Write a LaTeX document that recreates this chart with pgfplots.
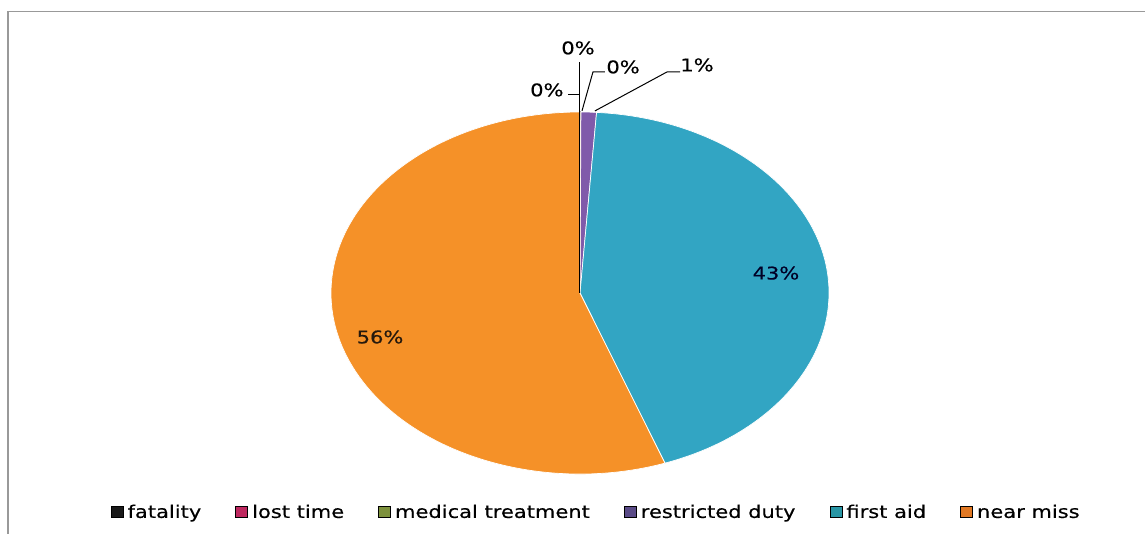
\documentclass[border=0pt]{standalone}
\usepackage{pgfplots}
\pgfplotsset{compat=1.18}
\usepackage{fontspec}
\newfontfamily\chartfont[FakeStretch=1.2, FakeBold=0.4]{DejaVu Sans}

\definecolor{cFatal}{RGB}{25,25,25}
\definecolor{cLost}{RGB}{190,40,95}
\definecolor{cMed}{RGB}{125,145,60}
\definecolor{cRestr}{RGB}{128,90,170}
\definecolor{cFirst}{RGB}{50,165,195}
\definecolor{cNear}{RGB}{245,145,40}
% legend swatches are a bit darker than the slices
\definecolor{lRestr}{RGB}{90,75,135}
\definecolor{lFirst}{RGB}{40,150,165}
\definecolor{lNear}{RGB}{225,120,35}

% pie slice: value in percent, colour; runs clockwise from 12 o'clock
\def\cum{90}
\newcommand\slice[3][white]{%
  \pgfmathsetmacro\a{\cum}%
  \pgfmathsetmacro\b{\cum-3.6*#2}%
  \edef\tmp{\noexpand\filldraw[fill=#3, draw=#1, line width=0.7bp]
    (axis cs:0,0) -- (axis cs:{cos(\a)},{sin(\a)})
    arc[start angle=\a, end angle=\b, x radius=249bp, y radius=181bp] -- cycle;}%
  \tmp
  \xdef\cum{\b}}

\begin{document}
\begin{tikzpicture}
\path[use as bounding box, fill=white] (0,0) rectangle (1145bp,534bp);
\draw[black!40, line width=1.6bp] (8bp,0bp) -- (8bp,522.5bp) -- (1145bp,522.5bp);

\begin{axis}[
    at={(580bp,241bp)}, anchor=center,
    scale only axis, width=498bp, height=362bp,
    xmin=-1, xmax=1, ymin=-1, ymax=1,
    hide axis, clip=false,
    font=\chartfont\fontsize{17.5bp}{20bp}\selectfont,
    legend columns=6,
    legend image code/.code={\fill[#1] (0bp,-5.5bp) rectangle (12bp,6bp);},
    legend style={
        at={(0.535,-0.105)}, anchor=center,
        draw=none, fill=none,
        font=\chartfont\fontsize{17.5bp}{20bp}\selectfont,
        nodes={inner xsep=4.5bp, inner ysep=1bp},
        /tikz/every even column/.append style={column sep=29.5bp},
    },
]
% fatality, lost time, medical treatment, restricted duty, first aid, near miss
\slice[black]{0.02}{cFatal}
\slice[black]{0.02}{cLost}
\slice{0.02}{cMed}
\slice{1.0}{cRestr}
\slice{43.4}{cFirst}
\slice{55.54}{cNear}
\draw[black, line width=0.8bp] (axis cs:-0.004,1.0) -- (axis cs:-0.004,0);

\addlegendimage{fill=cFatal}
\addlegendentry{fatality}
\addlegendimage{fill=cLost}
\addlegendentry{lost time}
\addlegendimage{fill=cMed}
\addlegendentry{medical treatment}
\addlegendimage{fill=lRestr}
\addlegendentry{restricted duty}
\addlegendimage{fill=lFirst}
\addlegendentry{first aid}
\addlegendimage{fill=lNear}
\addlegendentry{near miss}

% data labels
\node[text=black!85!blue] at (axis cs:0.787,0.110) {43\%};
\node[text=black!80!brown] at (axis cs:-0.803,-0.243) {56\%};
\node at (axis cs:-0.008,1.354) {0\%};
\node at (axis cs:-0.133,1.122) {0\%};
\node at (axis cs:0.173,1.249) {0\%};
\node at (axis cs:0.470,1.260) {1\%};

% leader lines
\draw[black, line width=1bp] (axis cs:-0.004,1.276) -- (axis cs:-0.004,1.0);
\draw[black, line width=1bp] (axis cs:-0.048,1.099) -- (axis cs:-0.004,1.099);
\draw[black, line width=1bp] (axis cs:0.100,1.221) -- (axis cs:0.052,1.221) -- (axis cs:0.008,1.006);
\draw[black, line width=1bp] (axis cs:0.402,1.221) -- (axis cs:0.349,1.221) -- (axis cs:0.060,1.006);
\end{axis}
\end{tikzpicture}
\end{document}
